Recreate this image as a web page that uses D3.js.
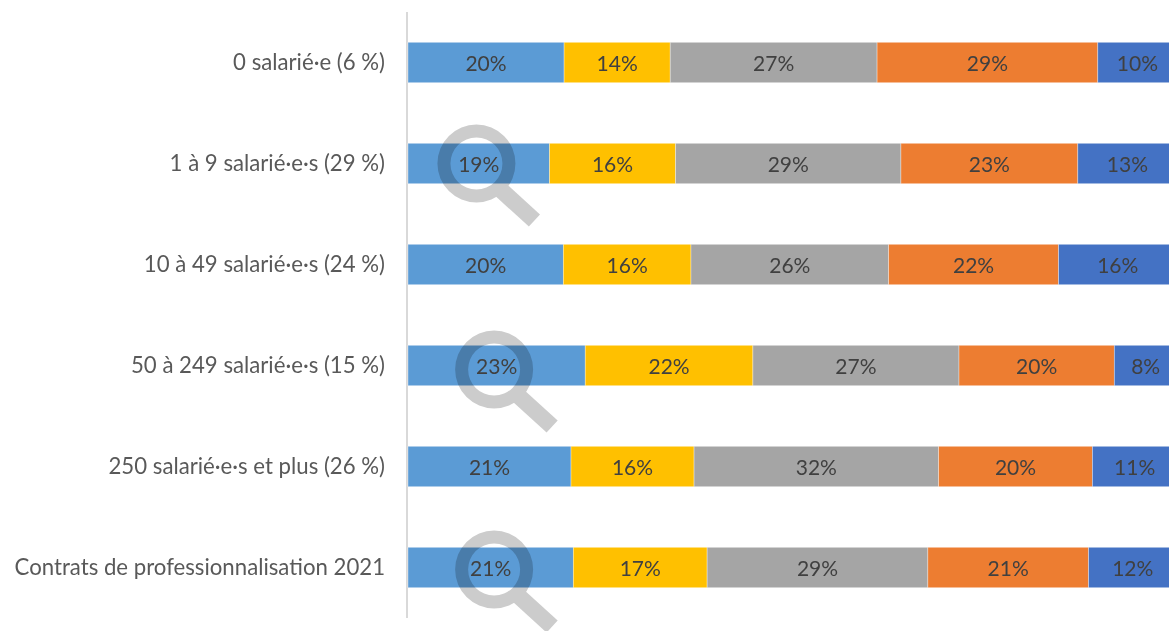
<!DOCTYPE html>
<html><head><meta charset="utf-8">
<script src="https://cdn.jsdelivr.net/npm/d3@7/dist/d3.min.js"></script>
<style>html,body{margin:0;padding:0;background:#fff;overflow:hidden}svg{display:block}text{font-family:Lato,"Open Sans",sans-serif}</style>
</head><body><svg id="c" width="1169" height="631"></svg>
<script>
const categories=["0 salarié·e (6 %)","1 à 9 salarié·e·s (29 %)","10 à 49 salarié·e·s (24 %)","50 à 249 salarié·e·s (15 %)","250 salarié·e·s et plus (26 %)","Contrats de professionnalisation 2021"];
const colors=["#5b9bd5","#ffc000","#a5a5a5","#ed7d31","#4472c4"];
const series1=[20.3,18.4,20.2,23.05,21.2,21.5];
const series2=[13.8,16.4,16.6,21.8,16.0,17.4];
const series3=[26.9,29.3,25.7,26.8,31.8,28.7];
const series4=[28.7,23.0,22.1,20.2,20.0,20.9];
const series5=[10.3,12.9,15.4,8.15,11.0,11.5];
const labels1=["20%","19%","20%","23%","21%","21%"];
const labels2=["14%","16%","16%","22%","16%","17%"];
const labels3=["27%","29%","26%","27%","32%","29%"];
const labels4=["29%","23%","22%","20%","20%","21%"];
const labels5=["10%","13%","16%","8%","11%","12%"];
const watermarkRows=[1,3,5];
const watermarkAt=[8.9,11.2,11.2];
const watermarkDy=[0,4,2];

const allValues=[series1,series2,series3,series4,series5];
const allLabels=[labels1,labels2,labels3,labels4,labels5];
const svg=d3.select("#c");
const x=d3.scaleLinear().domain([0,100]).range([408,1177]);
const y=d3.scaleBand().domain(categories).range([12,618]).paddingInner(0.6).paddingOuter(0.3);

const axis=d3.axisLeft(y).tickSize(0).tickPadding(23);
const g=svg.append("g").attr("transform","translate(408,0)").call(axis);
g.select(".domain").remove();
g.selectAll("text").attr("font-size",22.2).attr("fill","#595959").attr("font-family","Lato,'Open Sans',sans-serif").attr("dy","0.34em");
svg.append("line").attr("x1",x(0)-1).attr("x2",x(0)-1).attr("y1",y.range()[0]).attr("y2",y.range()[1]).attr("stroke","#d9d9d9").attr("stroke-width",2);

categories.forEach((c,i)=>{
  let acc=0;
  allValues.forEach((vals,s)=>{
    const v=vals[i],x0=x(acc),x1=x(acc+v);
    svg.append("rect").attr("x",x0).attr("y",y(c)).attr("width",x1-x0).attr("height",y.bandwidth()).attr("fill",colors[s]).attr("stroke","#fff").attr("stroke-opacity",0.45).attr("stroke-width",0.75);
    svg.append("text").attr("x",(x0+x1)/2).attr("y",y(c)+y.bandwidth()/2+1).attr("dy","0.35em").attr("text-anchor","middle").attr("font-size",21).attr("fill","#404040").text(allLabels[s][i]);
    acc+=v;
  });
});

watermarkRows.forEach((r,k)=>{
  const cx=x(watermarkAt[k]),cy=y(categories[r])+y.bandwidth()/2+watermarkDy[k];
  const m=svg.append("g").attr("transform",`translate(${cx},${cy})`).style("mix-blend-mode","multiply").attr("fill","none").attr("stroke","#cccccc");
  m.append("path").attr("d",d3.arc()({innerRadius:26,outerRadius:39,startAngle:0,endAngle:2*Math.PI})).attr("fill","#cccccc").attr("stroke","none");
  m.append("line").attr("x1",25).attr("y1",27).attr("x2",58).attr("y2",57).attr("stroke-width",16.5);
});
</script></body></html>
